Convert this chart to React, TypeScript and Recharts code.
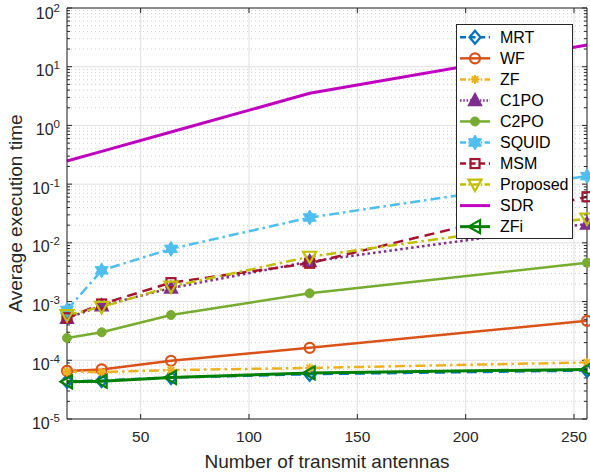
import React from 'react';
import { LineChart, Line, XAxis, YAxis, CartesianGrid, ReferenceLine } from 'recharts';

const antennas = [16, 32, 64, 128, 256];
const mrtTimes = [4.4e-5, 4.5e-5, 5.1e-5, 5.8e-5, 6.7e-5];
const wfTimes = [6.6e-5, 7.0e-5, 9.8e-5, 1.63e-4, 4.7e-4];
const zfTimes = [6.4e-5, 6.3e-5, 6.8e-5, 7.4e-5, 9.2e-5];
const c1poTimes = [5.2e-4, 8.5e-4, 1.7e-3, 4.8e-3, 2.1e-2];
const c2poTimes = [2.4e-4, 3.0e-4, 5.9e-4, 1.38e-3, 4.6e-3];
const squidTimes = [7.2e-4, 3.4e-3, 7.9e-3, 2.7e-2, 1.37e-1];
const msmTimes = [5.3e-4, 9.1e-4, 2.1e-3, 4.5e-3, 6.1e-2];
const proposedTimes = [5.9e-4, 8.1e-4, 1.8e-3, 5.8e-3, 2.6e-2];
const sdrTimes = [0.248, 0.362, 0.773, 3.52, 23.4];
const zfiTimes = [4.3e-5, 4.4e-5, 5.1e-5, 6.1e-5, 7.0e-5];

const xTicks = [50, 100, 150, 200, 250];
const yTicks = [1e-5, 1e-4, 1e-3, 1e-2, 1e-1, 1, 10, 100];
const minorMultipliers = [2, 3, 4, 5, 6, 7, 8, 9];

const xLabel = 'Number of transmit antennas';
const yLabel = 'Average execution time';

const FONT = '"Liberation Sans", Arial, Helvetica, sans-serif';
const AX = '#262626';

type Kind = 'diamond' | 'circle' | 'asterisk' | 'triUp' | 'dot' | 'hexagram' | 'square' | 'triDown' | 'none' | 'triLeft';

const series: { key: string; values: number[]; color: string; dash?: string; width: number; marker: Kind }[] = [
  { key: 'MRT', values: mrtTimes, color: '#0072BD', dash: '10 6', width: 2.5, marker: 'diamond' },
  { key: 'WF', values: wfTimes, color: '#D95319', width: 2.5, marker: 'circle' },
  { key: 'ZF', values: zfTimes, color: '#EDB120', dash: '10 4 2.5 4', width: 2.5, marker: 'asterisk' },
  { key: 'C1PO', values: c1poTimes, color: '#7E2F8E', dash: '2.5 3', width: 2.5, marker: 'triUp' },
  { key: 'C2PO', values: c2poTimes, color: '#77AC30', width: 2.5, marker: 'dot' },
  { key: 'SQUID', values: squidTimes, color: '#4DBEEE', dash: '10 4 2.5 4', width: 2.5, marker: 'hexagram' },
  { key: 'MSM', values: msmTimes, color: '#A2142F', dash: '10 6', width: 2.5, marker: 'square' },
  { key: 'Proposed', values: proposedTimes, color: '#BFBF00', dash: '10 4 2.5 4', width: 2.5, marker: 'triDown' },
  { key: 'SDR', values: sdrTimes, color: '#BF00BF', width: 3, marker: 'none' },
  { key: 'ZFi', values: zfiTimes, color: '#008000', width: 3, marker: 'triLeft' },
];

const data = antennas.map((n, i) => {
  const row: Record<string, number> = { n };
  series.forEach((s) => {
    row[s.key] = s.values[i];
  });
  return row;
});

function hexPoints(cx: number, cy: number, ro: number, ri: number) {
  const pts: string[] = [];
  for (let i = 0; i < 12; i++) {
    const a = (Math.PI / 6) * i - Math.PI / 2;
    const r = i % 2 === 0 ? ro : ri;
    pts.push(`${cx + r * Math.cos(a)},${cy + r * Math.sin(a)}`);
  }
  return pts.join(' ');
}

function Marker({ kind, cx, cy, color }: { kind: Kind; cx: number; cy: number; color: string }) {
  const sw = 2.2;
  switch (kind) {
    case 'diamond':
      return <polygon points={`${cx},${cy - 6.5} ${cx + 5.5},${cy} ${cx},${cy + 6.5} ${cx - 5.5},${cy}`} fill="none" stroke={color} strokeWidth={sw} />;
    case 'circle':
      return <circle cx={cx} cy={cy} r={5} fill="none" stroke={color} strokeWidth={sw} />;
    case 'asterisk':
      return (
        <g stroke={color} strokeWidth={2}>
          <line x1={cx - 4.5} y1={cy} x2={cx + 4.5} y2={cy} />
          <line x1={cx} y1={cy - 4.5} x2={cx} y2={cy + 4.5} />
          <line x1={cx - 3.2} y1={cy - 3.2} x2={cx + 3.2} y2={cy + 3.2} />
          <line x1={cx - 3.2} y1={cy + 3.2} x2={cx + 3.2} y2={cy - 3.2} />
        </g>
      );
    case 'triUp':
      return <polygon points={`${cx},${cy - 7} ${cx + 6.5},${cy + 5} ${cx - 6.5},${cy + 5}`} fill={color} stroke={color} strokeWidth={1.5} />;
    case 'dot':
      return <circle cx={cx} cy={cy} r={4.5} fill={color} stroke={color} strokeWidth={1} />;
    case 'hexagram':
      return <polygon points={hexPoints(cx, cy, 7.5, 4.3)} fill={color} stroke={color} strokeWidth={1} />;
    case 'square':
      return <rect x={cx - 4.5} y={cy - 4.5} width={9} height={9} fill="none" stroke={color} strokeWidth={sw} />;
    case 'triDown':
      return <polygon points={`${cx},${cy + 6.5} ${cx + 6.5},${cy - 5} ${cx - 6.5},${cy - 5}`} fill="none" stroke={color} strokeWidth={sw} />;
    case 'triLeft':
      return <polygon points={`${cx - 6.5},${cy} ${cx + 5},${cy - 6.5} ${cx + 5},${cy + 6.5}`} fill="none" stroke={color} strokeWidth={sw} />;
    default:
      return <g />;
  }
}

const PLOT_LEFT = 67;
const PLOT_RIGHT = 587;
const PLOT_TOP = 8;
const PLOT_BOTTOM = 419;
const X_MIN = 16;
const X_MAX = 256;
const Y_MIN = 1e-5;
const Y_MAX = 100;
const pxPerX = (PLOT_RIGHT - PLOT_LEFT) / (X_MAX - X_MIN);
const pxPerDecade = (PLOT_BOTTOM - PLOT_TOP) / 7;

const MAJOR_LEN = 5;
const MINOR_LEN = 3;
const dxMajor = MAJOR_LEN / pxPerX;
const dxMinor = MINOR_LEN / pxPerX;
const fyMajor = Math.pow(10, MAJOR_LEN / pxPerDecade);

const minorValues: number[] = [];
yTicks.slice(0, -1).forEach((d) => {
  minorMultipliers.forEach((m) => minorValues.push(d * m));
});

function YTick(props: any) {
  const { y, payload } = props;
  const exp = Math.round(Math.log10(payload.value));
  return (
    <text x={60} y={y + 9.5} textAnchor="end" fill={AX} fontFamily={FONT} fontSize={16}>
      <tspan>10</tspan>
      <tspan dy={-7} fontSize={11.5}>{exp}</tspan>
    </text>
  );
}

function XTick(props: any) {
  const { x, payload } = props;
  return (
    <text x={x} y={442} textAnchor="middle" fill={AX} fontFamily={FONT} fontSize={15.5}>
      {payload.value}
    </text>
  );
}

function XLabelEl() {
  return (
    <text x={(PLOT_LEFT + PLOT_RIGHT) / 2} y={468} textAnchor="middle" fill={AX} fontFamily={FONT} fontSize={19}>
      {xLabel}
    </text>
  );
}

function YLabelEl() {
  const cx = 22;
  const cy = (PLOT_TOP + PLOT_BOTTOM) / 2;
  return (
    <text x={cx} y={cy} transform={`rotate(-90, ${cx}, ${cy})`} textAnchor="middle" fill={AX} fontFamily={FONT} fontSize={19}>
      {yLabel}
    </text>
  );
}

function LegendBox() {
  const rowH = 21.04;
  const top0 = 13.3;
  return (
    <div style={{ position: 'absolute', left: 456, top: 24, width: 117, height: 215 }}>
      <svg width={117} height={215}>
        <rect x={0.5} y={0.5} width={116} height={214} fill="#ffffff" stroke={AX} strokeWidth={1} />
        {series.map((s, i) => {
          const cy = top0 + i * rowH;
          return (
            <g key={s.key}>
              <line x1={4} y1={cy} x2={34} y2={cy} stroke={s.color} strokeWidth={s.width} strokeDasharray={s.dash ? s.dash.split(' ').map((v) => String(Number(v) * 0.6)).join(' ') : undefined} />
              <Marker kind={s.marker} cx={19} cy={cy} color={s.color} />
              <text x={44} y={cy + 5.5} fill="#000" fontFamily={FONT} fontSize={16}>
                {s.key}
              </text>
            </g>
          );
        })}
      </svg>
    </div>
  );
}

export default function App() {
  return (
    <div style={{ position: 'absolute', left: 0, top: 0, width: 590, height: 476, background: '#fff' }}>
      <LineChart width={590} height={476} data={data} margin={{ top: PLOT_TOP, right: 590 - PLOT_RIGHT, left: 0, bottom: 0 }}>
        <CartesianGrid stroke="#dfdfdf" strokeWidth={1} />
        {minorValues.map((v) => (
          <ReferenceLine key={`mg-${v}`} y={v} stroke="#cfcfcf" strokeWidth={1} strokeDasharray="1 3" />
        ))}
        <XAxis
          dataKey="n"
          type="number"
          domain={[X_MIN, X_MAX]}
          ticks={xTicks}
          tick={<XTick />}
          tickLine={false}
          axisLine={false}
          height={476 - PLOT_BOTTOM}
          label={<XLabelEl />}
        />
        <YAxis
          type="number"
          scale="log"
          domain={[Y_MIN, Y_MAX]}
          ticks={yTicks}
          tick={<YTick />}
          tickLine={false}
          axisLine={false}
          width={PLOT_LEFT}
          label={<YLabelEl />}
        />
        {series.map((s) => (
          <Line
            key={s.key}
            dataKey={s.key}
            stroke={s.color}
            strokeWidth={s.width}
            strokeDasharray={s.dash}
            isAnimationActive={false}
            dot={
              s.marker === 'none'
                ? false
                : (p: any) => <Marker key={`${s.key}-${p.index}`} kind={s.marker} cx={p.cx} cy={p.cy} color={s.color} />
            }
            activeDot={false}
          />
        ))}
        <ReferenceLine x={X_MIN} stroke={AX} strokeWidth={1} />
        <ReferenceLine x={X_MAX} stroke={AX} strokeWidth={1} />
        <ReferenceLine y={Y_MIN} stroke={AX} strokeWidth={1} />
        <ReferenceLine y={Y_MAX} stroke={AX} strokeWidth={1} />
        {yTicks.map((v) => (
          <ReferenceLine key={`ytl-${v}`} segment={[{ x: X_MIN, y: v }, { x: X_MIN + dxMajor, y: v }]} stroke={AX} strokeWidth={1} />
        ))}
        {yTicks.map((v) => (
          <ReferenceLine key={`ytr-${v}`} segment={[{ x: X_MAX - dxMajor, y: v }, { x: X_MAX, y: v }]} stroke={AX} strokeWidth={1} />
        ))}
        {minorValues.map((v) => (
          <ReferenceLine key={`mtl-${v}`} segment={[{ x: X_MIN, y: v }, { x: X_MIN + dxMinor, y: v }]} stroke={AX} strokeWidth={1} />
        ))}
        {minorValues.map((v) => (
          <ReferenceLine key={`mtr-${v}`} segment={[{ x: X_MAX - dxMinor, y: v }, { x: X_MAX, y: v }]} stroke={AX} strokeWidth={1} />
        ))}
        {xTicks.map((t) => (
          <ReferenceLine key={`xtb-${t}`} segment={[{ x: t, y: Y_MIN }, { x: t, y: Y_MIN * fyMajor }]} stroke={AX} strokeWidth={1} />
        ))}
        {xTicks.map((t) => (
          <ReferenceLine key={`xtt-${t}`} segment={[{ x: t, y: Y_MAX / fyMajor }, { x: t, y: Y_MAX }]} stroke={AX} strokeWidth={1} />
        ))}
      </LineChart>
      <LegendBox />
    </div>
  );
}
